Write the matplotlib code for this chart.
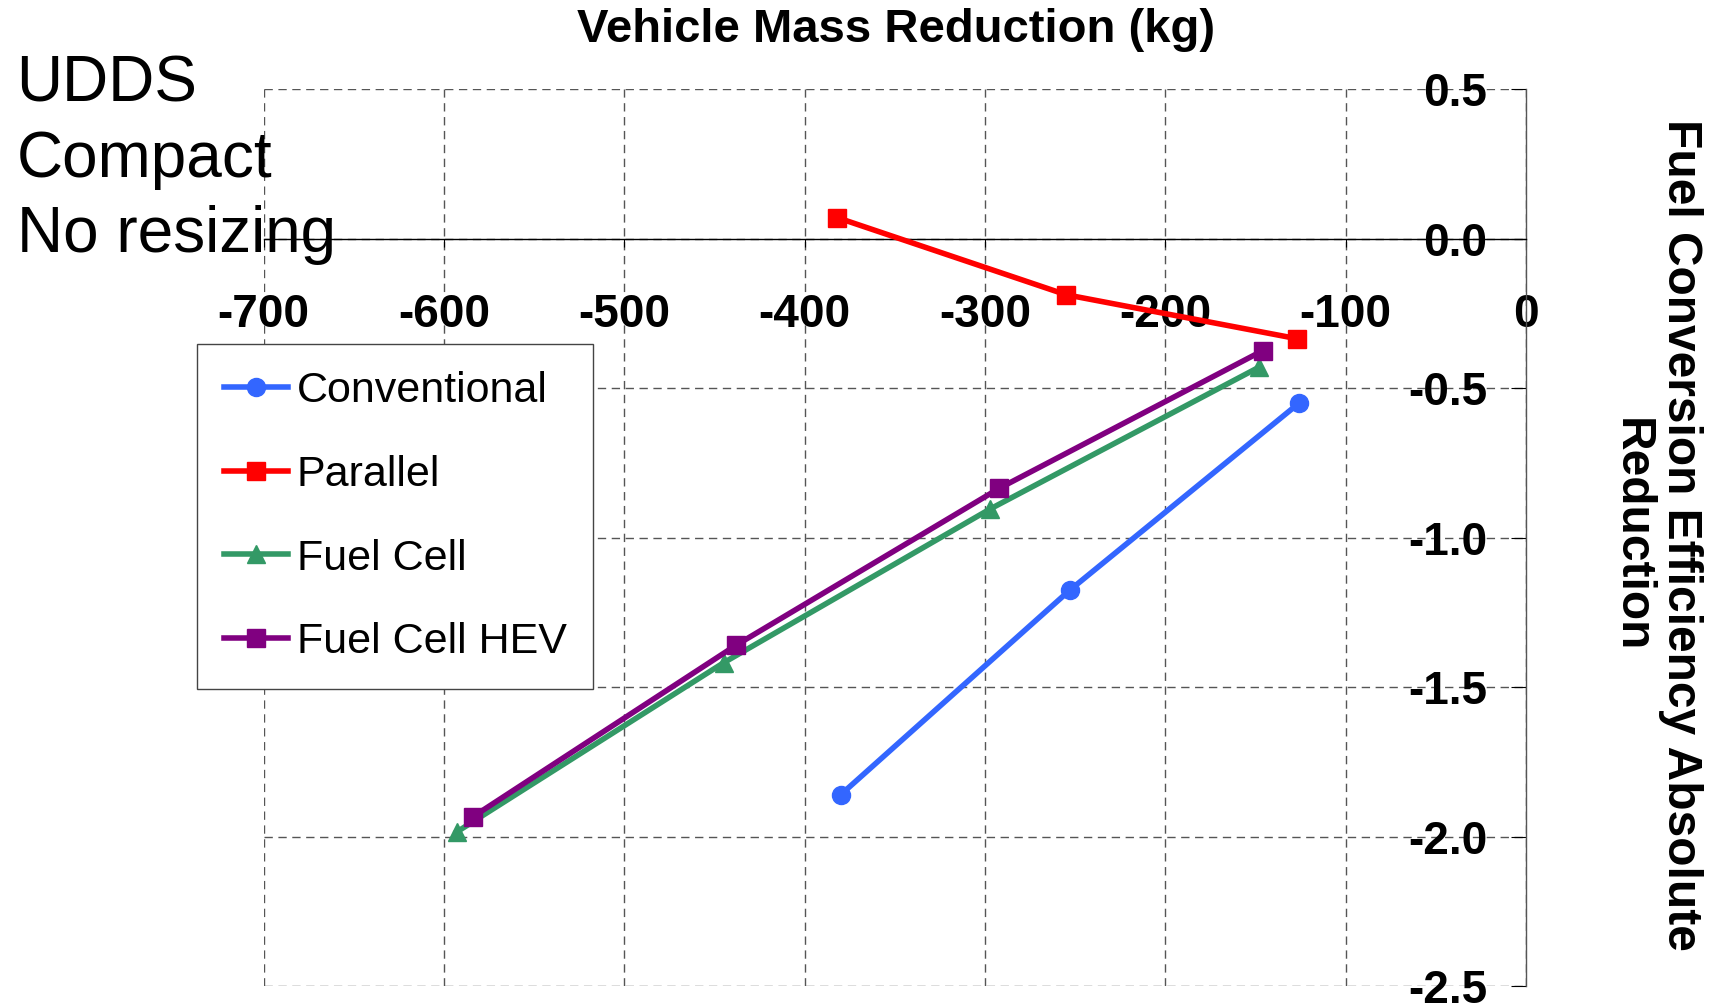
import matplotlib.pyplot as plt

# values
conv_x = [-380, -253, -126]
conv_y = [-1.86, -1.176, -0.551]

par_x = [-382, -255, -127]
par_y = [0.07, -0.188, -0.335]

fc_x = [-593, -445, -297, -148]
fc_y = [-1.985, -1.419, -0.904, -0.430]

fchev_x = [-584, -438, -292, -146]
fchev_y = [-1.934, -1.360, -0.835, -0.375]

x_ticks = [-700, -600, -500, -400, -300, -200, -100, 0]
y_ticks = [0.5, 0.0, -0.5, -1.0, -1.5, -2.0, -2.5]


def main():
    plt.rcParams['font.family'] = ['Liberation Sans', 'DejaVu Sans']

    fig = plt.figure(figsize=(17.23, 10.07), dpi=100)
    ax = fig.add_axes([0.153, 0.0208, 0.8857 - 0.153, 0.9116 - 0.0208])

    lw = 4
    ax.plot(conv_x, conv_y, color='#3366FF', lw=lw, marker='o', ms=13,
            label='Conventional', zorder=3)
    ax.plot(par_x, par_y, color='#FF0000', lw=lw, marker='s', ms=13,
            label='Parallel', zorder=3)
    ax.plot(fc_x, fc_y, color='#339966', lw=lw, marker='^', ms=13,
            label='Fuel Cell', zorder=3)
    ax.plot(fchev_x, fchev_y, color='#800080', lw=lw, marker='s', ms=13,
            label='Fuel Cell HEV', zorder=3)

    ax.set_xlim(-700, 0)
    ax.set_ylim(-2.5, 0.5)
    ax.set_xticks(x_ticks)
    ax.set_yticks(y_ticks)
    ax.set_xticklabels([str(v) for v in x_ticks])
    ax.set_yticklabels(['%.1f' % v for v in y_ticks])

    # axes cross at zero, y labels sit left of the x=0 line
    for s in ['top', 'right']:
        ax.spines[s].set_visible(False)
    ax.spines['bottom'].set_position(('data', 0))
    ax.spines['left'].set_position(('data', 0))
    ax.spines['bottom'].set_color('black')
    ax.spines['left'].set_color('#555555')
    ax.spines['bottom'].set_linewidth(1)
    ax.spines['left'].set_linewidth(1)

    ax.tick_params(axis='x', direction='out', length=6, pad=33, labelsize=33)
    ax.tick_params(axis='y', direction='out', length=11, pad=17, labelsize=33)
    for lab in ax.get_xticklabels() + ax.get_yticklabels():
        lab.set_fontweight('bold')

    ax.grid(True, color='#555555', lw=1, linestyle=(0, (6, 4)))
    ax.set_axisbelow(True)

    fig.text(815 / 1568, 1 - 27 / 916, 'Vehicle Mass Reduction (kg)',
             ha='center', va='center', fontsize=34, fontweight='bold')
    fig.text(0.961, 0.469, 'Fuel Conversion Efficiency Absolute\nReduction',
             ha='center', va='center', rotation=270, fontsize=34.5,
             fontweight='bold', multialignment='center', linespacing=1.1)
    fig.text(0.0096, 0.946, 'UDDS\nCompact\nNo resizing', ha='left', va='top',
             fontsize=46, linespacing=1.33, zorder=5)

    leg = ax.legend(loc='upper left', bbox_to_anchor=(0.1143, 0.6584),
                    bbox_transform=fig.transFigure, borderaxespad=0,
                    fontsize=31, handlelength=1.5, handletextpad=0.2,
                    labelspacing=1.02, borderpad=0.62, fancybox=False,
                    framealpha=1)
    leg.get_frame().set_edgecolor('#444444')
    leg.get_frame().set_linewidth(1)

    fig.savefig('out.png', dpi=100)


if __name__ == '__main__':
    main()
